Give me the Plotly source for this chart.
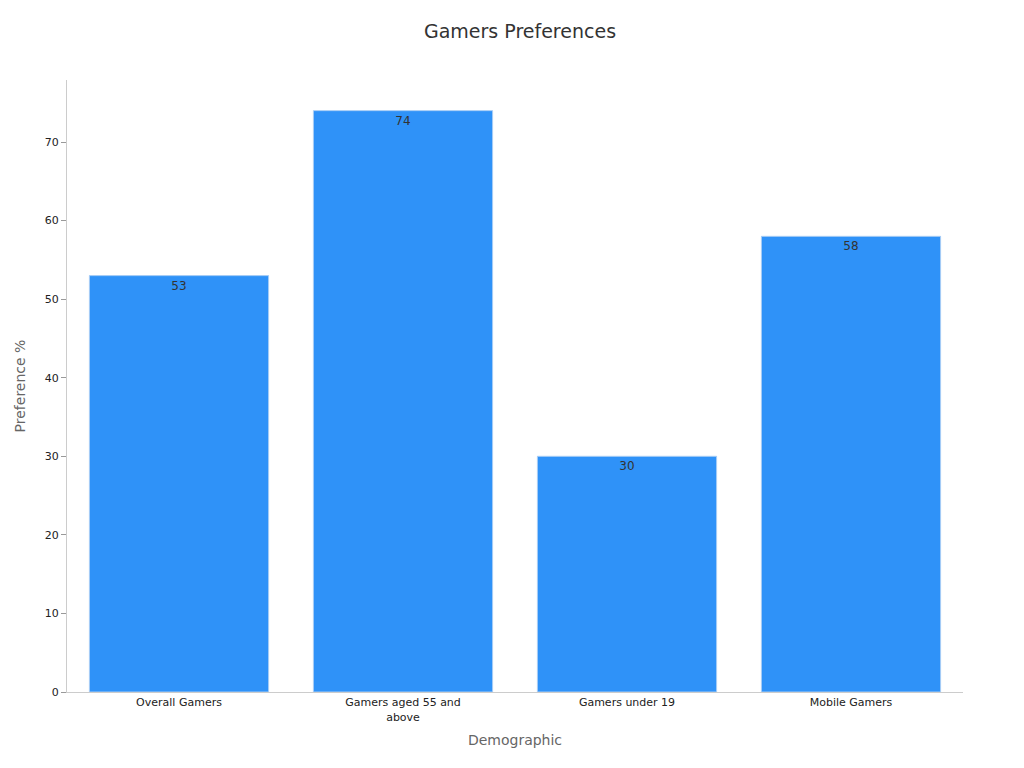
import plotly.graph_objects as go

categories = ["Overall Gamers", "Gamers aged 55 and<br>above", "Gamers under 19", "Mobile Gamers"]
preference = [53, 74, 30, 58]

fig = go.Figure(go.Bar(
    x=categories,
    y=preference,
    text=preference,
    textposition="inside",
    insidetextanchor="end",
    textfont=dict(color="#333333", size=12),
    marker=dict(color="#2f92f8", line=dict(color="#a8cdf5", width=1)),
))

fig.update_layout(
    width=1024, height=768,
    font=dict(family="DejaVu Sans", color="#222222", size=12),
    title=dict(text="Gamers Preferences", x=0.5, y=0.969, xanchor="center", yanchor="middle",
               font=dict(size=19, color="#333333")),
    plot_bgcolor="white", paper_bgcolor="white",
    margin=dict(l=53, r=69, t=72, b=84),
    bargap=0.2,
    showlegend=False,
)
fig.update_xaxes(title=dict(text="Demographic", font=dict(size=14, color="#666666"), standoff=12),
                 showline=True, linecolor="#cccccc", ticks="", tickfont=dict(size=11))
fig.update_yaxes(title=dict(text="Preference %", font=dict(size=14, color="#666666")),
                 range=[0, 77.9], dtick=10, showgrid=False, zeroline=False,
                 showline=True, linecolor="#cccccc", ticks="outside", ticklen=5,
                 tickcolor="#999999", tickfont=dict(size=11))

fig.write_html("out.html")
